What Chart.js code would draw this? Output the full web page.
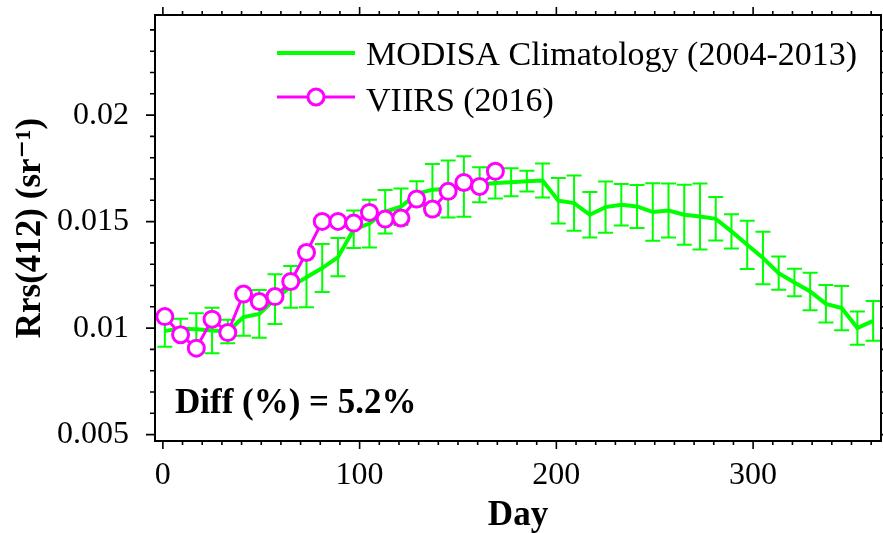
<!DOCTYPE html>
<html>
<head>
<meta charset="utf-8">
<script src="https://cdn.jsdelivr.net/npm/chart.js@4.4.0/dist/chart.umd.min.js"></script>
<style>
html, body { margin: 0; padding: 0; background: #fff; }
canvas { display: block; }
</style>
</head>
<body>
<canvas id="c" width="883" height="533"></canvas>
<script>
// ---- Data ----
const modisDays = [1, 9, 17, 25, 33, 41, 49, 57, 65, 73, 81, 89, 97, 105, 113, 121, 129, 137, 145, 153,
  161, 169, 177, 185, 193, 201, 209, 217, 225, 233, 241, 249, 257, 265, 273, 281, 289, 297, 305, 313,
  321, 329, 337, 345, 353, 361];
const modisMean = [0.00987, 0.00997, 0.00995, 0.00989, 0.00984, 0.01052, 0.01067, 0.01136, 0.01194, 0.01239,
  0.01282, 0.01333, 0.01464, 0.01491, 0.01546, 0.01570, 0.01631, 0.01650, 0.01653, 0.01665,
  0.01673, 0.01681, 0.01685, 0.01690, 0.01693, 0.01598, 0.01587, 0.01532, 0.01568, 0.01579,
  0.01571, 0.01545, 0.01552, 0.01532, 0.01524, 0.01513, 0.01454, 0.01391, 0.01329, 0.01258,
  0.01214, 0.01172, 0.01114, 0.01094, 0.01000, 0.01034];
const modisErr = [0.00075, 0.00047, 0.00075, 0.00107, 0.00055, 0.00088, 0.00112, 0.00117, 0.00098, 0.00141,
  0.00113, 0.00090, 0.00088, 0.00112, 0.00102, 0.00086, 0.00059, 0.00121, 0.00134, 0.00142,
  0.00082, 0.00072, 0.00066, 0.00049, 0.00080, 0.00107, 0.00130, 0.00107, 0.00120, 0.00097,
  0.00101, 0.00135, 0.00127, 0.00141, 0.00155, 0.00102, 0.00080, 0.00113, 0.00123, 0.00078,
  0.00065, 0.00088, 0.00088, 0.00104, 0.00078, 0.00093];
const viirsDays = [1, 9, 17, 25, 33, 41, 49, 57, 65, 73, 81, 89, 97, 105, 113, 121, 129, 137, 145, 153, 161, 169];
const viirsValues = [0.01054, 0.00969, 0.00906, 0.01042, 0.00979, 0.01160, 0.01125, 0.01148, 0.01219, 0.01355,
  0.01501, 0.01501, 0.01493, 0.01543, 0.01512, 0.01517, 0.01606, 0.01559, 0.01642, 0.01684, 0.01665, 0.01736];
const xTickValues = [0, 100, 200, 300];
const yTickValues = [0.005, 0.01, 0.015, 0.02];
const yTickLabels = ['0.005', '0.01', '0.015', '0.02'];
const seriesNames = ['MODISA Climatology (2004-2013)', 'VIIRS (2016)'];
const xTitle = 'Day';
const yTitle = 'Rrs(412) (sr\u207B\u00B9)';
const diffText = 'Diff (%) = 5.2%';

// ---- Styling ----
const SERIF = '"Liberation Serif", "Times New Roman", "DejaVu Serif", serif';
const GREEN = '#00ff00';
const MAGENTA = '#ff00ff';

const decorPlugin = {
  id: 'decor',
  beforeDatasetsDraw(chart) {
    const { ctx, scales: { x, y } } = chart;
    ctx.save();
    ctx.strokeStyle = GREEN;
    ctx.lineWidth = 2;
    const cap = 7.5;
    modisDays.forEach((d, i) => {
      const px = x.getPixelForValue(d);
      const top = y.getPixelForValue(modisMean[i] + modisErr[i]);
      const bot = y.getPixelForValue(modisMean[i] - modisErr[i]);
      ctx.beginPath();
      ctx.moveTo(px, top); ctx.lineTo(px, bot);
      ctx.moveTo(px - cap, top); ctx.lineTo(px + cap, top);
      ctx.moveTo(px - cap, bot); ctx.lineTo(px + cap, bot);
      ctx.stroke();
    });
    ctx.restore();
  },
  afterDraw(chart) {
    const { ctx, chartArea: a, scales: { x, y } } = chart;
    ctx.save();
    // frame
    ctx.strokeStyle = '#000';
    ctx.lineWidth = 2;
    ctx.strokeRect(a.left, a.top, a.right - a.left, a.bottom - a.top);
    // tick marks (major + minor), outward on all sides
    ctx.lineWidth = 1.6;
    ctx.beginPath();
    for (let d = 0; d <= x.max; d += 10) {
      const px = x.getPixelForValue(d);
      const len = d % 100 === 0 ? 8 : 4;
      ctx.moveTo(px, a.bottom); ctx.lineTo(px, a.bottom + len);
      ctx.moveTo(px, a.top); ctx.lineTo(px, a.top - len);
    }
    for (let k = 5; k <= 24; k++) {
      const py = y.getPixelForValue(k / 1000);
      const len = k % 5 === 0 ? 9 : 5;
      ctx.moveTo(a.left, py); ctx.lineTo(a.left - len, py);
      ctx.moveTo(a.right, py); ctx.lineTo(a.right + len, py);
    }
    ctx.stroke();

    // legend
    const lx0 = a.left + 122, lx1 = a.left + 200, tx = a.left + 211;
    const ly0 = a.top + 38, ly1 = a.top + 82;
    ctx.lineCap = 'butt';
    ctx.strokeStyle = GREEN; ctx.lineWidth = 4;
    ctx.beginPath(); ctx.moveTo(lx0, ly0); ctx.lineTo(lx1, ly0); ctx.stroke();
    ctx.strokeStyle = MAGENTA; ctx.lineWidth = 3;
    ctx.beginPath(); ctx.moveTo(lx0, ly1); ctx.lineTo(lx1, ly1); ctx.stroke();
    ctx.beginPath(); ctx.arc((lx0 + lx1) / 2, ly1, 8, 0, Math.PI * 2);
    ctx.fillStyle = '#fff'; ctx.fill(); ctx.stroke();
    ctx.fillStyle = '#000';
    ctx.font = '34px ' + SERIF;
    ctx.textAlign = 'left';
    ctx.textBaseline = 'alphabetic';
    ctx.fillText(seriesNames[0], tx, ly0 + 12);
    ctx.fillText(seriesNames[1], tx, ly1 + 14);

    // diff annotation
    ctx.font = 'bold 35px ' + SERIF;
    ctx.fillText(diffText, a.left + 20, a.bottom - 28);
    ctx.restore();
  }
};

const chart = new Chart(document.getElementById('c'), {
  type: 'line',
  data: {
    datasets: [
      {
        label: seriesNames[1],
        data: viirsDays.map((d, i) => ({ x: d, y: viirsValues[i] })),
        borderColor: MAGENTA,
        borderWidth: 3,
        pointRadius: 8,
        pointBorderWidth: 3,
        pointBorderColor: MAGENTA,
        pointBackgroundColor: '#ffffff',
        tension: 0,
        order: 0
      },
      {
        label: seriesNames[0],
        data: modisDays.map((d, i) => ({ x: d, y: modisMean[i] })),
        borderColor: GREEN,
        borderWidth: 4,
        pointRadius: 0,
        tension: 0,
        order: 1
      }
    ]
  },
  options: {
    responsive: false,
    animation: false,
    devicePixelRatio: 1,
    layout: { autoPadding: false, padding: { top: 15, right: 2, left: 0, bottom: 0 } },
    plugins: { legend: { display: false }, tooltip: { enabled: false } },
    scales: {
      x: {
        type: 'linear',
        min: -4,
        max: 365,
        afterBuildTicks: (s) => { s.ticks = xTickValues.map(v => ({ value: v })); },
        afterFit: (s) => { s.height = 92; s.paddingLeft = 0; s.paddingRight = 0; },
        grid: { display: false, drawTicks: false },
        border: { display: false },
        ticks: {
          color: '#000',
          font: { family: SERIF, size: 32, lineHeight: 1.2 },
          padding: 15,
          maxRotation: 0,
          callback: (v) => String(v)
        },
        title: {
          display: true,
          text: xTitle,
          color: '#000',
          font: { family: SERIF, size: 35, weight: 'bold', lineHeight: 1 },
          padding: { top: 0, bottom: 0 }
        }
      },
      y: {
        type: 'linear',
        min: 0.0047,
        max: 0.0247,
        afterBuildTicks: (s) => { s.ticks = yTickValues.map(v => ({ value: v })); },
        afterFit: (s) => { s.width = 155; s.paddingTop = 0; s.paddingBottom = 0; },
        grid: { display: false, drawTicks: false },
        border: { display: false },
        ticks: {
          color: '#000',
          font: { family: SERIF, size: 32 },
          padding: 26,
          callback: (v) => { const i = yTickValues.indexOf(v); return i >= 0 ? yTickLabels[i] : ''; }
        },
        title: {
          display: true,
          text: yTitle,
          color: '#000',
          font: { family: SERIF, size: 35, weight: 'bold', lineHeight: 1 },
          padding: { top: 13, bottom: 0 }
        }
      }
    }
  },
  plugins: [decorPlugin]
});
</script>
</body>
</html>
